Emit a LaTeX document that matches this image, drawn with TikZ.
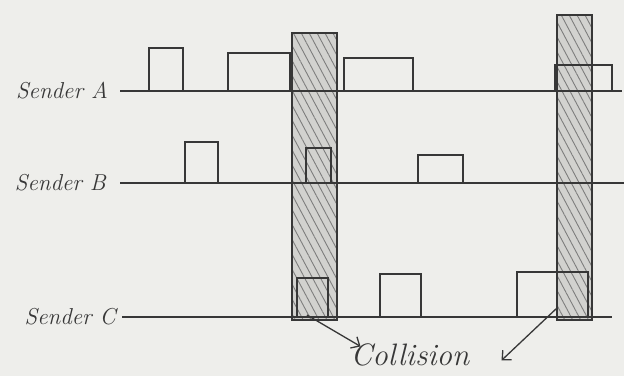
\documentclass[tikz,border=0pt]{standalone}
\usepackage{tikz}
\usetikzlibrary{arrows.meta, positioning, patterns.meta}
\definecolor{paper}{RGB}{238, 238, 235}
\definecolor{pencil}{RGB}{55, 55, 55}
\definecolor{shade}{RGB}{210, 210, 207}

\tikzset{
  sender/.style={font=\itshape\fontsize{23}{26}\selectfont, text=pencil, inner sep=2pt},
  wire/.style={draw=pencil, line width=1.6pt},
  frame/.style={draw=pencil, line width=1.6pt},
  slot/.style={draw=pencil, line width=2.6pt, preaction={fill=shade},
    pattern={Lines[angle=-62, distance=7pt, line width=0.9pt]}, pattern color=pencil!65},
  pointer/.style={draw=pencil, line width=1.3pt, -{Straight Barb[length=7pt, width=13pt]}}
}

\begin{document}
\begin{tikzpicture}[x=1pt, y=-1pt]
    \useasboundingbox[fill=paper] (0,0) rectangle (624,376);

    % 1. COLLISION SLOTS (hatched, drawn first so lines sit on top)
    \draw[slot] (292,33) rectangle (337,320);
    \draw[slot] (557,15) rectangle (592,320);

    % 2. SENDER TIME LINES
    \coordinate (a0) at (120,91);  \coordinate (a1) at (622,91);
    \coordinate (b0) at (120,183); \coordinate (b1) at (624,183);
    \coordinate (c0) at (122,317); \coordinate (c1) at (612,317);
    \node[sender, left=10pt of a0] (senderA) {Sender A};
    \node[sender, left=12pt of b0] (senderB) {Sender B};
    \node[sender, left=4pt of c0] (senderC) {Sender C};
    \draw[wire] (a0) -- (a1);
    \draw[wire] (b0) -- (b1);
    \draw[wire] (c0) -- (c1);

    % 3. FRAMES (left, right, top, line)
    \foreach \l/\r/\t in {149/183/48, 228/290/53, 344/413/58, 555/612/65}
        \draw[frame] (\l,91) |- (\r,\t) -- (\r,91);
    \foreach \l/\r/\t in {185/218/142, 306/331/148, 418/463/155}
        \draw[frame] (\l,183) |- (\r,\t) -- (\r,183);
    \foreach \l/\r/\t in {297/328/278, 380/421/274, 517/588/272}
        \draw[frame] (\l,317) |- (\r,\t) -- (\r,317);

    % 4. COLLISION LABEL AND POINTERS
    \node[sender, font=\itshape\fontsize{31}{33}\selectfont, anchor=base] (hit) at (410,365) {Collision};
    \coordinate (hitA) at (307,315);
    \coordinate (hitB) at (557,308);
    \draw[pointer] (hitA) -- ([shift={(12,-8)}]hit.west);
    \draw[pointer] (hitB) -- ([shift={(30,6)}]hit.east);

\end{tikzpicture}
\end{document}
